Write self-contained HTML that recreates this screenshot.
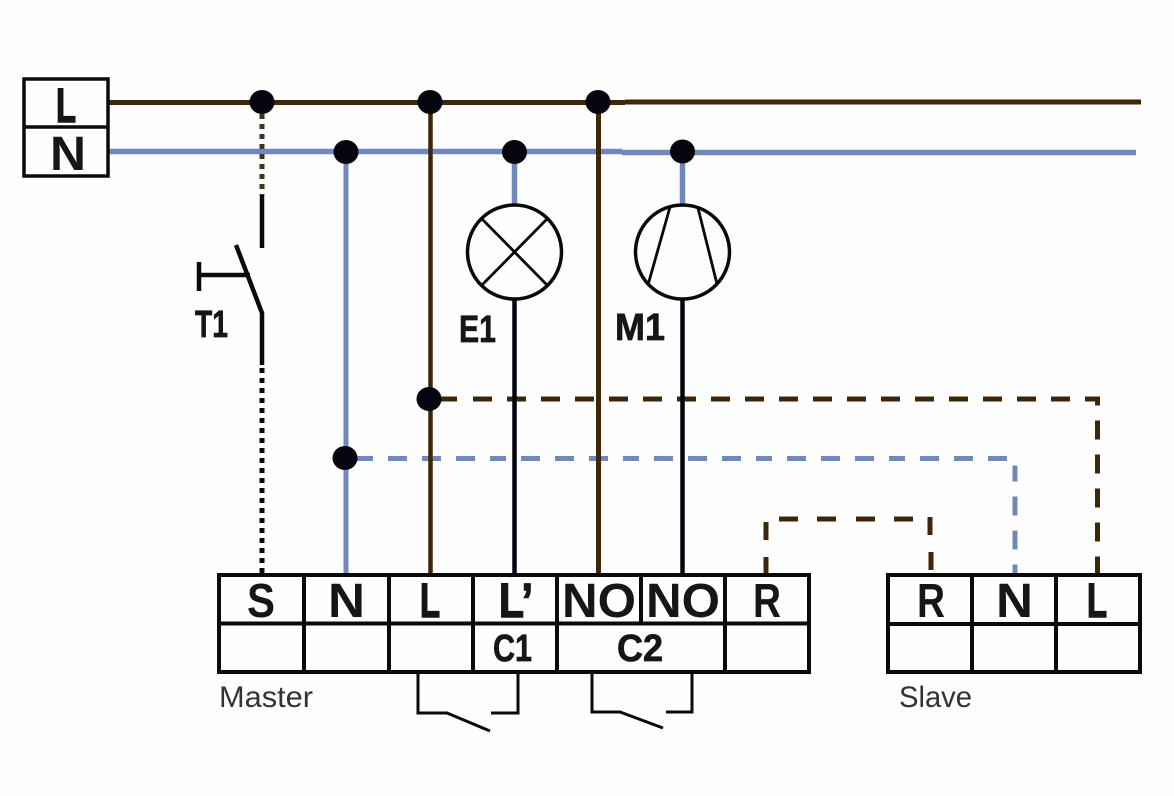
<!DOCTYPE html>
<html><head><meta charset="utf-8"><style>
html,body{margin:0;padding:0;background:#fefefe}
svg{display:block}
.b{font-family:"Liberation Sans",sans-serif;font-weight:700;fill:#161616}
.t{font-size:48px}.s{font-size:38px;stroke:#161616;stroke-width:.7px}
.l{stroke:#161616;stroke-width:1.6px}
.r{font-family:"Liberation Sans",sans-serif;font-size:30px;fill:#333}
</style></head><body>
<svg width="1174" height="796" viewBox="0 0 1174 796" xmlns="http://www.w3.org/2000/svg">
<rect width="1174" height="796" fill="#fefefe"/>
<g fill="none" stroke-linecap="butt">
<!-- mains -->
<path d="M108 151.500H622" stroke="#7189ba" stroke-width="5.500"/>
<path d="M622 152.500H1136" stroke="#7189ba" stroke-width="5.500"/>
<path d="M108 102.500H625" stroke="#3f2608" stroke-width="5"/>
<path d="M625 102H1141" stroke="#3f2608" stroke-width="5"/>
<!-- dotted T1 -->
<path d="M262 114V195" stroke="#3f3420" stroke-width="5" stroke-dasharray="5 5"/>
<path d="M262 195V248" stroke="#0a0a0a" stroke-width="4.500"/>
<path d="M236 245L262 313V365" stroke="#0a0a0a" stroke-width="4.500"/>
<path d="M199 262V291" stroke="#0a0a0a" stroke-width="4.500"/>
<path d="M199 275H250" stroke="#0a0a0a" stroke-width="4.500"/>
<path d="M262 368V575" stroke="#0a0a0a" stroke-width="5" stroke-dasharray="5 5"/>
<!-- blue verticals -->
<path d="M346 152V574" stroke="#7189ba" stroke-width="5"/>
<path d="M514.500 152V205" stroke="#7189ba" stroke-width="5.500"/>
<path d="M682.500 152V205" stroke="#7189ba" stroke-width="5.500"/>
<!-- dashed blue -->
<path d="M357 458.500H1015V575" stroke="#7189ba" stroke-width="5" stroke-dasharray="16 15 19 15 19 15 19 15"/>
<!-- brown verticals -->
<path d="M430.500 102V574" stroke="#3f2608" stroke-width="4.500"/>
<path d="M598.500 102V574" stroke="#3f2608" stroke-width="5"/>
<!-- dashed brown -->
<path d="M441 399H457M473 399H1097.500V575" stroke="#3f2608" stroke-width="5" stroke-dasharray="19 15"/>
<path d="M766 574V557M766 540V522M779 519H798M817 519H836M856 519H875M894 519H913M930 517V535M931 552V570" stroke="#3f2608" stroke-width="5"/>
<!-- lamp/motor -->
<path d="M514.500 300V574M682.500 300V574" stroke="#050510" stroke-width="4.500"/>
<circle cx="514.500" cy="252" r="47" fill="none" stroke="#0a0a0a" stroke-width="3.500"/>
<circle cx="682.500" cy="252" r="47" fill="none" stroke="#0a0a0a" stroke-width="3.500"/>
<path d="M482 219L547 285M547 219L482 285" stroke="#0a0a0a" stroke-width="2.800"/>
<path d="M670 207L648 285M698 208L717 284" stroke="#0a0a0a" stroke-width="2.800"/>
<!-- boxes -->
<g stroke="#0a0a0a" stroke-width="3.500">
<rect x="24" y="79" width="84" height="97"/>
<path d="M24 127H108"/>
</g>
<g stroke="#0a0a0a" stroke-width="4">
<rect x="219" y="575" width="590" height="97"/>
<path d="M219 623.500H809M304 575V672M389 575V672M473 575V672M557 575V672M641 575V623M725 575V672"/>
<rect x="888" y="575" width="252" height="97"/>
<path d="M888 624H1140M972 575V672M1056 575V672"/>
</g>
<!-- relay contacts -->
<g stroke="#0a0a0a" stroke-width="3">
<path d="M418 674V713H447L490 731"/>
<path d="M518 674V713H491"/>
<path d="M592 674V712H620L663 728"/>
<path d="M692 674V712H666"/>
</g>
</g>
<!-- dots -->
<g fill="#05050f">
<ellipse cx="262" cy="102" rx="12.500" ry="12"/>
<ellipse cx="430" cy="102" rx="12.500" ry="12"/>
<ellipse cx="598" cy="102" rx="12.500" ry="12"/>
<ellipse cx="346" cy="152" rx="12.500" ry="12"/>
<ellipse cx="514.500" cy="152" rx="12.500" ry="12"/>
<ellipse cx="682.500" cy="151.500" rx="12.500" ry="12"/>
<ellipse cx="429" cy="399" rx="12.500" ry="12"/>
<ellipse cx="345" cy="458" rx="12.500" ry="12"/>
</g>
<!-- labels -->
<g class="b t">
<text class="l" x="56" y="122" textLength="20" lengthAdjust="spacingAndGlyphs">L</text>
<text x="50" y="170" textLength="36" lengthAdjust="spacingAndGlyphs">N</text>
<text x="247" y="617" textLength="28" lengthAdjust="spacingAndGlyphs">S</text>
<text x="328" y="617" textLength="37" lengthAdjust="spacingAndGlyphs">N</text>
<text class="l" x="420" y="617" textLength="20" lengthAdjust="spacingAndGlyphs">L</text>
<text class="l" x="499" y="617" textLength="34" lengthAdjust="spacingAndGlyphs">L’</text>
<text x="562" y="617" textLength="74" lengthAdjust="spacingAndGlyphs">NO</text>
<text x="646" y="617" textLength="74" lengthAdjust="spacingAndGlyphs">NO</text>
<text x="753" y="617" textLength="28" lengthAdjust="spacingAndGlyphs">R</text>
<text x="917" y="617" textLength="28" lengthAdjust="spacingAndGlyphs">R</text>
<text x="996" y="617" textLength="37" lengthAdjust="spacingAndGlyphs">N</text>
<text class="l" x="1087" y="617" textLength="20" lengthAdjust="spacingAndGlyphs">L</text>
</g>
<g class="b s">
<text x="195" y="337" textLength="33" lengthAdjust="spacingAndGlyphs">T1</text>
<text x="459" y="342" textLength="37" lengthAdjust="spacingAndGlyphs">E1</text>
<text x="615" y="340" textLength="50" lengthAdjust="spacingAndGlyphs">M1</text>
<text x="493" y="661" textLength="39" lengthAdjust="spacingAndGlyphs">C1</text>
<text x="617" y="661" textLength="46" lengthAdjust="spacingAndGlyphs">C2</text>
</g>
<text class="r" x="219" y="707" textLength="94" lengthAdjust="spacingAndGlyphs">Master</text>
<text class="r" x="899" y="707" textLength="73" lengthAdjust="spacingAndGlyphs">Slave</text>
</svg>
</body></html>
